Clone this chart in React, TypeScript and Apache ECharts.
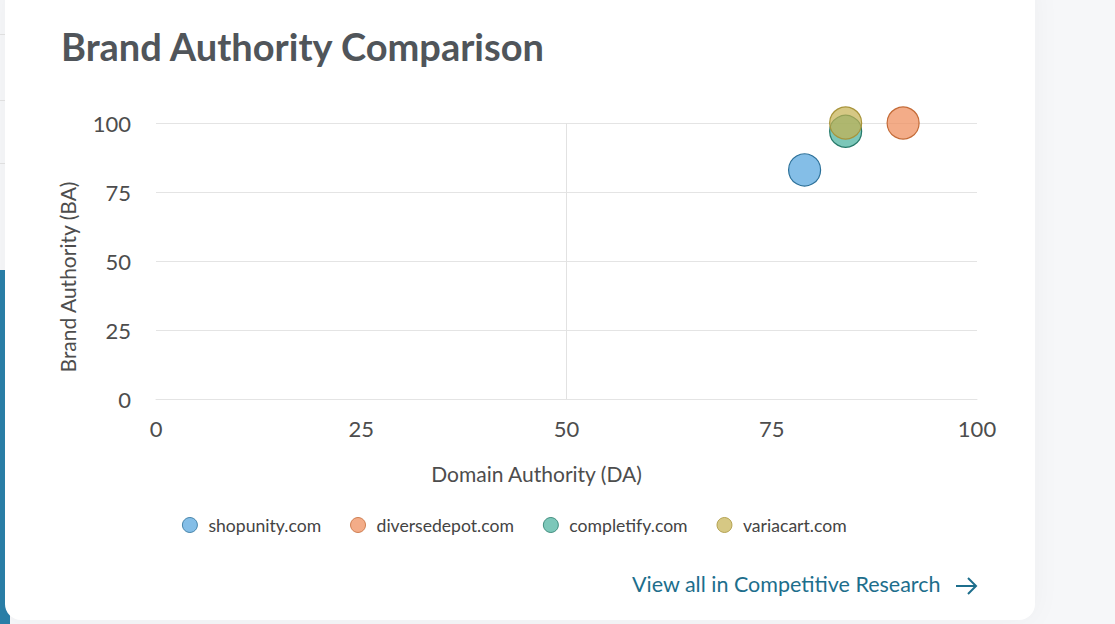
import React, { useEffect, useRef } from "react";
import * as echarts from "echarts";

const domains = ["shopunity.com", "diversedepot.com", "completify.com", "variacart.com"];
const domainAuthority = [79, 91, 84, 84];
const brandAuthority = [83, 100, 97, 100];
const fillColors = ["rgba(84,165,222,0.72)", "rgba(238,140,90,0.72)", "rgba(62,172,152,0.68)", "rgba(196,176,80,0.7)"];
const borderColors = ["#2a6f98", "#c46a36", "#267a6a", "#a8943a"];
const xTicks = [0, 25, 50, 75, 100];
const yTicks = [0, 25, 50, 75, 100];

export default function App() {
  const ref = useRef<HTMLDivElement>(null);
  useEffect(() => {
    document.body.style.margin = "0";
    const chart = echarts.init(ref.current!, null, { renderer: "svg" });
    const font = "Lato, 'Open Sans', sans-serif";
    const series: any[] = domains.map((d, i) => ({
      name: d,
      type: "scatter",
      symbol: "circle",
      symbolSize: 32,
      data: [[domainAuthority[i], brandAuthority[i]]],
      itemStyle: { color: fillColors[i], borderColor: borderColors[i], borderWidth: 1.2, opacity: 1 },
      z: 3 + i,
      ...(i === 0
        ? {
            markLine: {
              silent: true,
              symbol: "none",
              label: { show: false },
              lineStyle: { color: "#e2e2e2", width: 1, type: "solid" },
              data: [{ xAxis: 50 }],
            },
          }
        : {}),
    }));
    chart.setOption({
      animation: false,
      backgroundColor: "transparent",
      title: {
        text: "Brand Authority Comparison",
        left: 56,
        top: 22,
        textStyle: { fontFamily: font, fontSize: 38, fontWeight: "bold", color: "#50555a" },
      },
      grid: { left: 156, right: 138, top: 123, bottom: 225 },
      xAxis: {
        type: "value",
        min: xTicks[0],
        max: xTicks[xTicks.length - 1],
        interval: 25,
        name: "Domain Authority (DA)",
        nameLocation: "middle",
        nameGap: 64,
        nameTextStyle: { fontFamily: font, fontSize: 21, color: "#4d4d4d", padding: [0, 60, 0, 0] },
        axisLine: { show: true, lineStyle: { color: "#e4e4e4" } },
        axisTick: { show: false },
        splitLine: { show: false },
        axisLabel: { fontFamily: font, fontSize: 22, color: "#4d4d4d", margin: 18 },
      },
      yAxis: {
        type: "value",
        min: yTicks[0],
        max: yTicks[yTicks.length - 1],
        interval: 25,
        name: "Brand Authority (BA)",
        nameLocation: "middle",
        nameGap: 78,
        nameTextStyle: { fontFamily: font, fontSize: 21, color: "#4d4d4d", padding: [0, 32, 0, 0] },
        axisLine: { show: false },
        axisTick: { show: false },
        splitLine: { lineStyle: { color: "#e4e4e4" } },
        axisLabel: { fontFamily: font, fontSize: 22, color: "#4d4d4d", margin: 25 },
      },
      legend: {
        data: domains,
        top: 511,
        left: 177,
        itemWidth: 15,
        itemHeight: 15,
        itemGap: 29,
        icon: "circle",
        itemStyle: { borderWidth: 0.8 },
        textStyle: { fontFamily: font, fontSize: 17.6, color: "#444", padding: [0, 0, 0, 6] },
      },
      graphic: [
        {
          type: "text",
          left: 632,
          top: 573,
          style: { text: "View all in Competitive Research", font: `21.5px ${font}`, fill: "#1d6e8c" },
        },
        {
          type: "line",
          shape: { x1: 956, y1: 586, x2: 976, y2: 586 },
          style: { stroke: "#1d6e8c", lineWidth: 2 },
        },
        {
          type: "polyline",
          shape: { points: [[968, 578], [976, 586], [968, 594]] },
          style: { stroke: "#1d6e8c", lineWidth: 2, fill: "none" },
        },
      ],
      series,
    });
    return () => chart.dispose();
  }, []);
  return (
    <div style={{ position: "relative", width: 1115, height: 624, background: "#f6f7f9", overflow: "hidden" }}>
      <div style={{ position: "absolute", left: 0, top: 270, width: 10, height: 354, background: "#2a7fa8" }} />
      <div style={{ position: "absolute", left: 0, top: 34, width: 6, height: 1, background: "#e3e3e3" }} />
      <div style={{ position: "absolute", left: 0, top: 100, width: 6, height: 1, background: "#e3e3e3" }} />
      <div style={{ position: "absolute", left: 0, top: 163, width: 6, height: 1, background: "#e3e3e3" }} />
      <div
        style={{
          position: "absolute",
          left: 5,
          top: -20,
          width: 1030,
          height: 640,
          background: "#ffffff",
          borderRadius: 16,
          boxShadow: "0 0 30px rgba(0,0,0,0.04)",
        }}
      />
      <div ref={ref} style={{ position: "absolute", left: 0, top: 0, width: 1115, height: 624 }} />
    </div>
  );
}
